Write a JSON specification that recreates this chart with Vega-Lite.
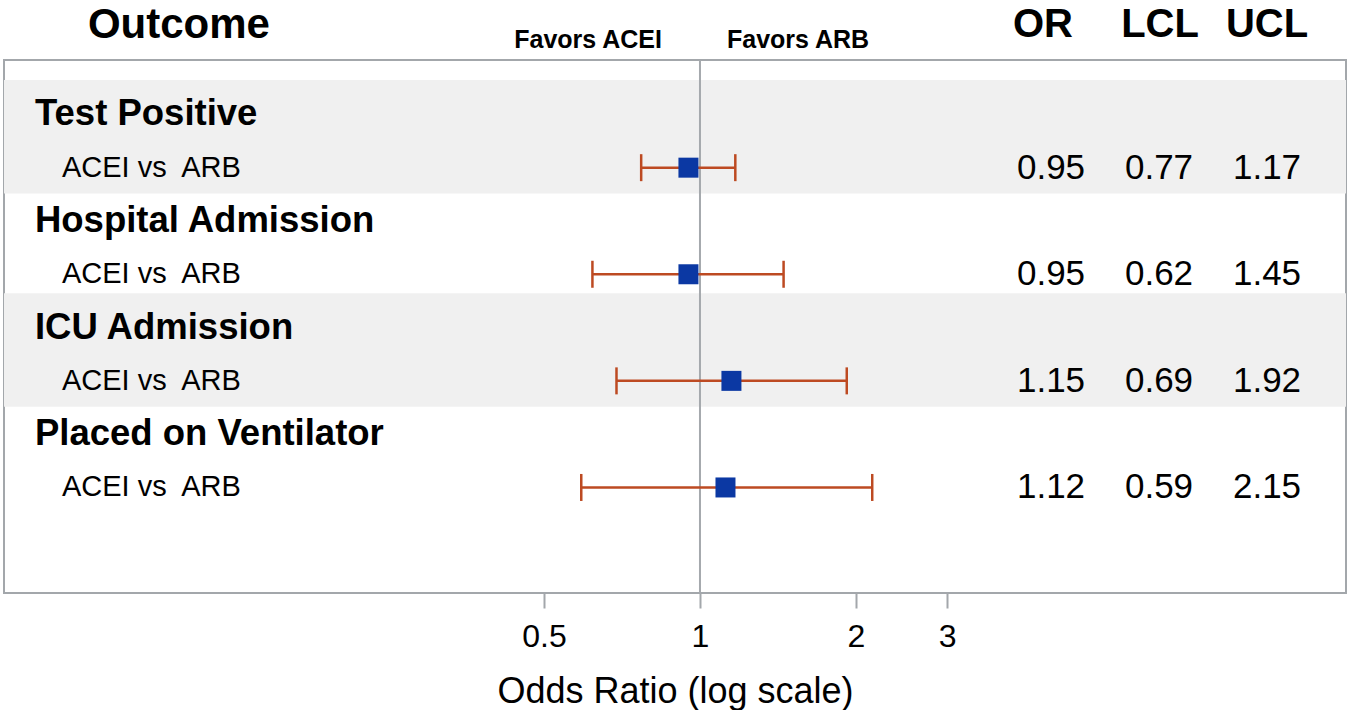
{
  "$schema": "https://vega.github.io/schema/vega-lite/v6.json",
  "padding": {"left": 3, "top": 0, "right": 0, "bottom": 0},
  "spacing": 0,
  "config": {
    "font": "Liberation Sans",
    "view": {"stroke": "#a3a7ab", "strokeWidth": 2},
    "text": {"color": "#000000"}
  },
  "datasets": {
    "rows": [
      {"row": 1, "label": "Test Positive", "level": "outcome", "shaded": true},
      {"row": 2, "label": "ACEI vs\u00a0 ARB", "level": "comparison", "shaded": true, "or": 0.95, "lcl": 0.77, "ucl": 1.17},
      {"row": 3, "label": "Hospital Admission", "level": "outcome", "shaded": false},
      {"row": 4, "label": "ACEI vs\u00a0 ARB", "level": "comparison", "shaded": false, "or": 0.95, "lcl": 0.62, "ucl": 1.45},
      {"row": 5, "label": "ICU Admission", "level": "outcome", "shaded": true},
      {"row": 6, "label": "ACEI vs\u00a0 ARB", "level": "comparison", "shaded": true, "or": 1.15, "lcl": 0.69, "ucl": 1.92},
      {"row": 7, "label": "Placed on Ventilator", "level": "outcome", "shaded": false},
      {"row": 8, "label": "ACEI vs\u00a0 ARB", "level": "comparison", "shaded": false, "or": 1.12, "lcl": 0.59, "ucl": 2.15}
    ]
  },
  "resolve": {"scale": {"x": "independent", "y": "independent"}},
  "vconcat": [
    {
      "width": 1342,
      "height": 58,
      "view": {"stroke": null, "fill": "white"},
      "data": {"values": [{}]},
      "layer": [
        {
          "mark": {"type": "text", "text": "Outcome", "fontSize": 42, "fontWeight": "bold", "align": "center", "baseline": "middle"},
          "encoding": {
            "x": {"datum": 0.0987, "type": "quantitative", "scale": {"type": "log", "domain": [0.04536, 17.656], "nice": false}, "axis": null},
            "y": {"datum": "column", "type": "nominal", "scale": {"type": "band", "domain": ["column", "direction"], "paddingInner": 0, "paddingOuter": 2.187, "align": 0.622}, "axis": null}
          }
        },
        {
          "mark": {"type": "text", "text": "OR", "fontSize": 40, "fontWeight": "bold", "align": "center", "baseline": "middle"},
          "encoding": {
            "x": {"datum": 4.5925, "type": "quantitative"},
            "y": {"datum": "column", "type": "nominal"}
          }
        },
        {
          "mark": {"type": "text", "text": "LCL", "fontSize": 40, "fontWeight": "bold", "align": "center", "baseline": "middle"},
          "encoding": {
            "x": {"datum": 7.7254, "type": "quantitative"},
            "y": {"datum": "column", "type": "nominal"}
          }
        },
        {
          "mark": {"type": "text", "text": "UCL", "fontSize": 40, "fontWeight": "bold", "align": "center", "baseline": "middle"},
          "encoding": {
            "x": {"datum": 12.429, "type": "quantitative"},
            "y": {"datum": "column", "type": "nominal"}
          }
        },
        {
          "mark": {"type": "text", "text": "Favors ACEI", "fontSize": 25, "fontWeight": "bold", "align": "right", "baseline": "middle"},
          "encoding": {
            "x": {"datum": 0.8446, "type": "quantitative"},
            "y": {"datum": "direction", "type": "nominal"}
          }
        },
        {
          "mark": {"type": "text", "text": "Favors ARB", "fontSize": 25, "fontWeight": "bold", "align": "left", "baseline": "middle"},
          "encoding": {
            "x": {"datum": 1.1275, "type": "quantitative"},
            "y": {"datum": "direction", "type": "nominal"}
          }
        }
      ]
    },
    {
      "width": 1342,
      "height": 533,
      "data": {"name": "rows"},
      "resolve": {"scale": {"y": "independent"}},
      "layer": [
        {
          "transform": [{"filter": "datum.shaded"}],
          "mark": {"type": "rect", "color": "#f0f0f0", "height": {"band": 1.13}},
          "encoding": {
            "y": {"field": "row", "type": "ordinal", "scale": {"type": "band", "domain": [1, 2, 3, 4, 5, 6, 7, 8], "paddingInner": 0, "paddingOuter": 1.0034, "align": 0.22}, "axis": null}
          }
        },
        {
          "layer": [
            {
              "data": {"values": [{}]},
              "mark": {"type": "rule", "color": "#a5a9ad", "strokeWidth": 2},
              "encoding": {
                "x": {"datum": 1, "type": "quantitative", "scale": {"type": "log", "domain": [0.04536, 17.656], "nice": false}, "title": "Odds Ratio (log scale)"}
              }
            },
            {
              "transform": [{"filter": "datum.level === 'comparison'"}],
              "mark": {"type": "rule", "color": "#bd4a22", "strokeWidth": 2.5},
              "encoding": {
                "x": {"field": "lcl", "type": "quantitative", "title": "Odds Ratio (log scale)"},
                "x2": {"field": "ucl"},
                "y": {"field": "row", "type": "ordinal", "scale": {"type": "band", "domain": [1, 2, 3, 4, 5, 6, 7, 8], "paddingInner": 0, "paddingOuter": 1.0034, "align": 0.26}, "axis": null}
              }
            },
            {
              "transform": [{"filter": "datum.level === 'comparison'"}],
              "mark": {"type": "tick", "color": "#bd4a22", "size": 27, "thickness": 2.5, "opacity": 1},
              "encoding": {
                "x": {"field": "lcl", "type": "quantitative", "title": "Odds Ratio (log scale)"},
                "y": {"field": "row", "type": "ordinal"}
              }
            },
            {
              "transform": [{"filter": "datum.level === 'comparison'"}],
              "mark": {"type": "tick", "color": "#bd4a22", "size": 27, "thickness": 2.5, "opacity": 1},
              "encoding": {
                "x": {"field": "ucl", "type": "quantitative", "title": "Odds Ratio (log scale)"},
                "y": {"field": "row", "type": "ordinal"}
              }
            },
            {
              "transform": [{"filter": "datum.level === 'comparison'"}],
              "mark": {"type": "point", "shape": "square", "size": 400, "filled": true, "color": "#0b38a3", "opacity": 1},
              "encoding": {
                "x": {
                  "field": "or", "type": "quantitative",
                  "axis": {
                    "values": [0.5, 1, 2, 3], "format": "~g", "grid": false, "domain": false,
                    "ticks": true, "tickSize": 15, "tickWidth": 2, "tickColor": "#a3a7ab",
                    "labelFontSize": 32, "labelColor": "#000000", "labelPadding": 13, "labelFlush": false, "labelOverlap": false,
                    "title": "Odds Ratio (log scale)", "titleFontSize": 36, "titleFontWeight": "normal", "titleColor": "#000000", "titlePadding": 22
                  }
                },
                "y": {"field": "row", "type": "ordinal"}
              }
            },
            {
              "transform": [{"filter": "datum.level === 'outcome'"}],
              "mark": {"type": "text", "fontSize": 36.5, "fontWeight": "bold", "align": "left", "baseline": "middle"},
              "encoding": {
                "x": {"datum": 0.05205, "type": "quantitative", "title": "Odds Ratio (log scale)"},
                "y": {"field": "row", "type": "ordinal"},
                "text": {"field": "label"}
              }
            },
            {
              "transform": [{"filter": "datum.level === 'comparison'"}],
              "mark": {"type": "text", "fontSize": 29, "align": "left", "baseline": "middle"},
              "encoding": {
                "x": {"datum": 0.05869, "type": "quantitative", "title": "Odds Ratio (log scale)"},
                "y": {"field": "row", "type": "ordinal"},
                "text": {"field": "label"}
              }
            },
            {
              "transform": [{"filter": "datum.level === 'comparison'"}],
              "mark": {"type": "text", "fontSize": 35, "align": "center", "baseline": "middle"},
              "encoding": {
                "x": {"datum": 4.759, "type": "quantitative", "title": "Odds Ratio (log scale)"},
                "y": {"field": "row", "type": "ordinal"},
                "text": {"field": "or", "format": ".2f"}
              }
            },
            {
              "transform": [{"filter": "datum.level === 'comparison'"}],
              "mark": {"type": "text", "fontSize": 35, "align": "center", "baseline": "middle"},
              "encoding": {
                "x": {"datum": 7.6906, "type": "quantitative", "title": "Odds Ratio (log scale)"},
                "y": {"field": "row", "type": "ordinal"},
                "text": {"field": "lcl", "format": ".2f"}
              }
            },
            {
              "transform": [{"filter": "datum.level === 'comparison'"}],
              "mark": {"type": "text", "fontSize": 35, "align": "center", "baseline": "middle"},
              "encoding": {
                "x": {"datum": 12.429, "type": "quantitative", "title": "Odds Ratio (log scale)"},
                "y": {"field": "row", "type": "ordinal"},
                "text": {"field": "ucl", "format": ".2f"}
              }
            }
          ]
        }
      ]
    }
  ]
}
